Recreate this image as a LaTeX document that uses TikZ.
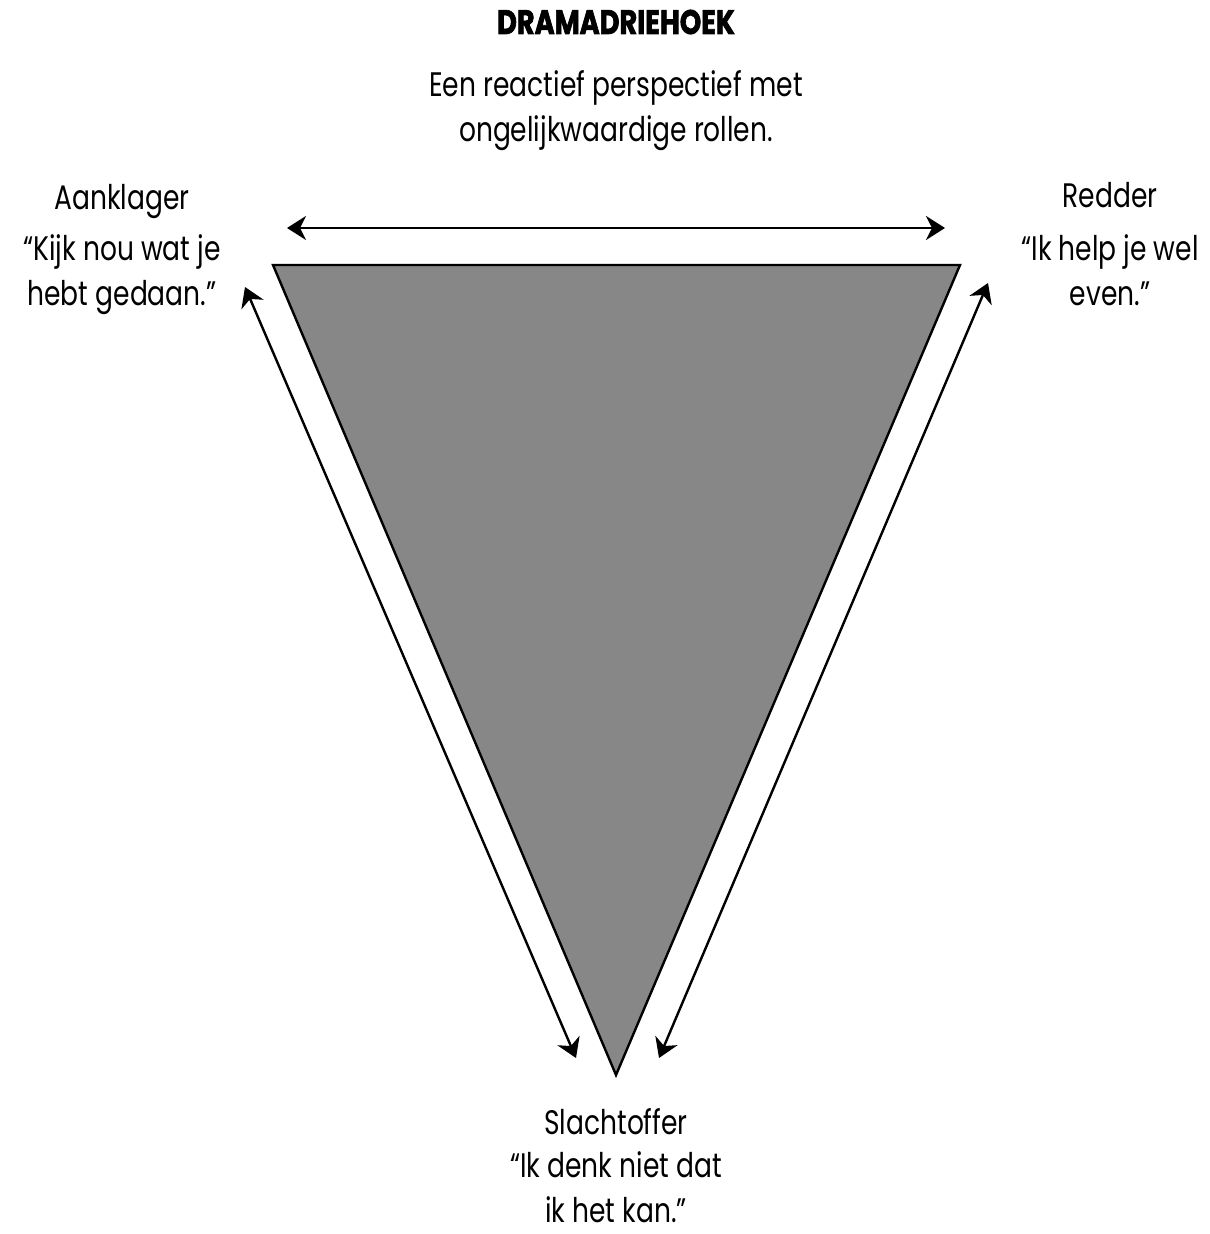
\documentclass[tikz,border=0pt]{standalone}
\usepackage{fontspec}
\setmainfont{Poppins}[FakeStretch=0.78]
\newfontfamily\titlefont{Poppins}[FakeStretch=0.80, BoldFeatures={FakeBold=2}]
\usetikzlibrary{arrows.meta}
\definecolor{dramagray}{HTML}{878787}
\tikzset{
  role/.style={anchor=base, inner sep=0pt, font=\fontsize{17}{23}\selectfont},
  quote/.style={anchor=base, align=center, inner sep=0pt, font=\fontsize{17}{22.5}\selectfont},
  flow/.style={{Stealth[length=9.5pt,width=12pt,inset=3pt]}-{Stealth[length=9.5pt,width=12pt,inset=3pt]}, line width=1.2pt},
}
\begin{document}
\begin{tikzpicture}[x=0.5pt, y=-0.5pt]
  \useasboundingbox (0,0) rectangle (1209,1234);
  % titel
  \node[anchor=base, inner sep=0pt, font=\fontsize{17}{20}\titlefont\bfseries] (title) at (616,34) {DRAMADRIEHOEK};
  \node[quote] (subtitle) at (616,142) {Een reactief perspectief met\\ongelijkwaardige rollen.};
  % driehoek
  \coordinate (tl) at (273,265);
  \coordinate (tr) at (960,265);
  \coordinate (bot) at (616,1075);
  \filldraw[fill=dramagray, draw=black, line width=1.2pt, line join=miter] (tl) -- (tr) -- (bot) -- cycle;
  % rollen
  \node[role] (aanklager) at (122,210) {Aanklager};
  \node[quote] (aanklagerq) at (122,306) {“Kijk nou wat je\\hebt gedaan.”};
  \node[role] (redder) at (1110,208) {Redder};
  \node[quote] (redderq) at (1110,306) {“Ik help je wel\\even.”};
  \node[role] (slachtoffer) at (616,1134) {Slachtoffer};
  \node[quote] (slachtofferq) at (616,1222) {“Ik denk niet dat\\ik het kan.”};
  % pijlen
  \coordinate (a1) at (287,228);
  \coordinate (a2) at (945,228);
  \coordinate (b1) at (245,287);
  \coordinate (b2) at (576,1058);
  \coordinate (c1) at (988,283);
  \coordinate (c2) at (659,1058);
  \draw[flow] (a1) -- (a2);
  \draw[flow] (b1) -- (b2);
  \draw[flow] (c1) -- (c2);
\end{tikzpicture}
\end{document}
